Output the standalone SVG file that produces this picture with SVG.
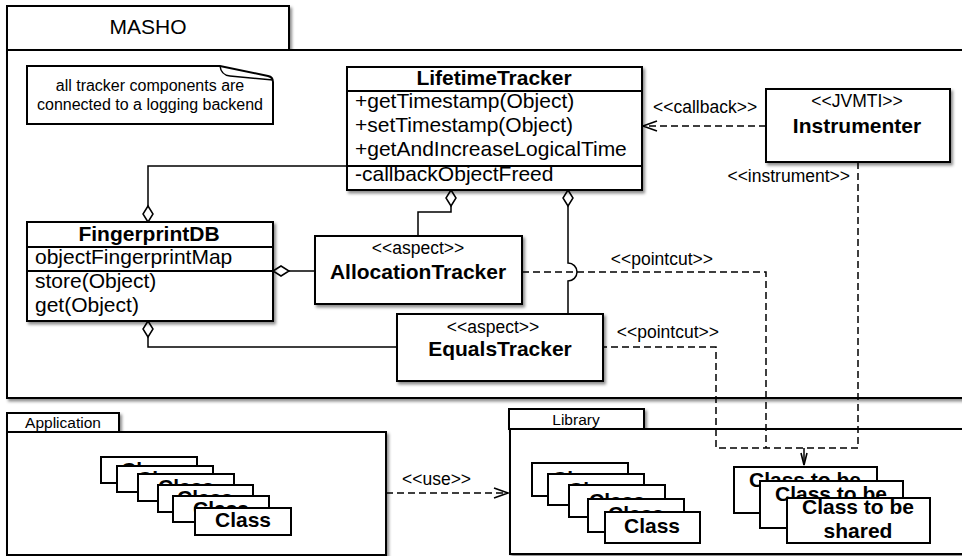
<svg xmlns="http://www.w3.org/2000/svg" width="962" height="556" viewBox="0 0 962 556">
<defs>
<filter id="sh" x="-5%" y="-5%" width="115%" height="125%">
<feDropShadow dx="2" dy="2.5" stdDeviation="1.5" flood-color="#000" flood-opacity="0.45"/>
</filter>
<marker id="open" viewBox="0 0 16 12" refX="15" refY="6" markerWidth="16" markerHeight="12" markerUnits="userSpaceOnUse" orient="auto">
<path d="M1,1 L15,6 L1,11" fill="none" stroke="#000" stroke-width="1.6"/>
</marker>
<marker id="small" viewBox="0 0 14 8" refX="13" refY="4" markerWidth="14" markerHeight="8" markerUnits="userSpaceOnUse" orient="auto">
<path d="M1,1 L13,4 L1,7" fill="none" stroke="#000" stroke-width="1.6"/>
</marker>
<style>
.box{fill:#fff;stroke:#000;stroke-width:2;filter:url(#sh)}
.plain{fill:#fff;stroke:#000;stroke-width:2}
.sep{stroke:#000;stroke-width:1.8}
.ln{fill:none;stroke:#000;stroke-width:1.5}
.dash{fill:none;stroke:#000;stroke-width:1.5;stroke-dasharray:7 4}
.dia{fill:#fff;stroke:#000;stroke-width:1.5}
text{font-family:"Liberation Sans",Arial,Helvetica,sans-serif;fill:#000}
.m{font-size:21px}
.b{font-size:21px;font-weight:bold}
.s{font-size:17.5px}
.n{font-size:16px}
.tab{font-size:15.5px}
.c{text-anchor:middle}
.e{text-anchor:end}
</style>
</defs>

<g id="masho">
<rect class="box" x="7" y="6" width="282" height="44"/>
<rect class="box" x="7" y="50" width="975" height="348"/>
<text class="m c" x="148" y="34">MASHO</text>
</g>

<g id="note">
<path d="M27,66 H220 L268,76 Q273,77 273,82 V124 H27 Z" fill="#fff" stroke="#000" stroke-width="2"/>
<path d="M220,66 Q221,75 230,76 L273,80" fill="none" stroke="#000" stroke-width="1.5"/>
<text class="n c" x="150" y="91">all tracker components are</text>
<text class="n c" x="150" y="110">connected to a logging backend</text>
</g>

<g id="application">
<rect class="box" x="7" y="413" width="112" height="19"/>
<rect class="box" x="7" y="432" width="379" height="123"/>
<text class="tab c" x="63" y="428">Application</text>
<g id="app-classes">
<rect class="plain" x="101" y="457" width="96" height="26"/><text class="b c" x="149" y="477">Class</text>
<rect class="plain" x="117" y="466" width="96" height="26"/><text class="b c" x="165" y="486">Class</text>
<rect class="plain" x="138" y="474" width="96" height="27"/><text class="b c" x="186" y="494">Class</text>
<rect class="plain" x="158" y="485" width="95" height="27"/><text class="b c" x="205" y="505">Class</text>
<rect class="plain" x="173" y="496" width="96" height="26"/><text class="b c" x="221" y="516">Class</text>
<rect class="plain" x="195" y="508" width="96" height="27"/><text class="b c" x="243" y="527">Class</text>
</g>
</g>

<g id="library">
<rect class="box" x="509" y="409" width="135" height="20"/>
<rect class="box" x="510" y="429" width="470" height="125"/>
<text class="tab c" x="576" y="425">Library</text>
<g id="lib-classes">
<rect class="plain" x="532" y="463" width="96" height="33"/><text class="b c" x="580" y="486">Class</text>
<rect class="plain" x="548" y="474" width="96" height="31"/><text class="b c" x="596" y="497">Class</text>
<rect class="plain" x="569" y="485" width="96" height="32"/><text class="b c" x="617" y="508">Class</text>
<rect class="plain" x="588" y="499" width="96" height="33"/><text class="b c" x="636" y="521">Class</text>
<rect class="plain" x="605" y="512" width="95" height="31"/><text class="b c" x="652" y="533">Class</text>
</g>
<g id="shared-classes">
<rect class="plain" x="734" y="467" width="143" height="46"/><text class="b c" x="805" y="487">Class to be</text>
<rect class="plain" x="760" y="481" width="143" height="47"/><text class="b c" x="831" y="501">Class to be</text>
<rect class="plain" x="787" y="498" width="143" height="45"/>
<text class="b c" x="858" y="514">Class to be</text>
<text class="b c" x="858" y="538">shared</text>
</g>
</g>

<g id="connectors">
<!-- FingerprintDB top to LifetimeTracker -->
<polyline class="ln" points="148,206 148,166 347,166"/>
<polygon class="dia" points="148,206 153,214 148,222 143,214"/>
<!-- FingerprintDB right to AllocationTracker -->
<line class="ln" x1="289" y1="271" x2="315" y2="271"/>
<polygon class="dia" points="273,271 281,266 289,271 281,276"/>
<!-- FingerprintDB bottom to EqualsTracker -->
<polyline class="ln" points="148,337 148,347 397,347"/>
<polygon class="dia" points="148,321 153,329 148,337 143,329"/>
<!-- LifetimeTracker to AllocationTracker -->
<polyline class="ln" points="451,206 451,212 418,212 418,236"/>
<polygon class="dia" points="451,190 456,198 451,206 446,198"/>
<!-- LifetimeTracker to EqualsTracker (with hop) -->
<path class="ln" d="M568,206 V263 A9,9 0 0 1 568,281 V314"/>
<polygon class="dia" points="568,190 573,198 568,206 563,198"/>
<!-- callback -->
<line class="dash" x1="766" y1="126" x2="643" y2="126" marker-end="url(#open)"/>
<text class="s" x="653" y="113">&lt;&lt;callback&gt;&gt;</text>
<!-- instrument / pointcuts -->
<polyline class="dash" points="858,162 858,448 716,448 716,347 603,347"/>
<polyline class="dash" points="522,272 766,272 766,448"/>
<line class="ln" x1="804" y1="448" x2="804" y2="465" marker-end="url(#small)"/>
<text class="s e" x="850" y="182">&lt;&lt;instrument&gt;&gt;</text>
<text class="s e" x="713" y="265">&lt;&lt;pointcut&gt;&gt;</text>
<text class="s e" x="719" y="338">&lt;&lt;pointcut&gt;&gt;</text>
<!-- use -->
<line class="dash" x1="386" y1="493" x2="508" y2="493" marker-end="url(#open)"/>
<text class="s" x="402" y="485">&lt;&lt;use&gt;&gt;</text>
</g>

<g id="lifetimetracker">
<rect class="box" x="347" y="67" width="295" height="123"/>
<line class="sep" x1="347" y1="91" x2="642" y2="91"/>
<line class="sep" x1="347" y1="166" x2="642" y2="166"/>
<text class="b c" x="494" y="85">LifetimeTracker</text>
<text class="m" x="355" y="108">+getTimestamp(Object)</text>
<text class="m" x="355" y="132">+setTimestamp(Object)</text>
<text class="m" x="355" y="156">+getAndIncreaseLogicalTime</text>
<text class="m" x="355" y="181">-callbackObjectFreed</text>
</g>

<g id="instrumenter">
<rect class="box" x="766" y="89" width="184" height="73"/>
<text class="s c" x="857" y="107">&lt;&lt;JVMTI&gt;&gt;</text>
<text class="b c" x="857" y="133">Instrumenter</text>
</g>

<g id="fingerprintdb">
<rect class="box" x="27" y="222" width="246" height="99"/>
<line class="sep" x1="27" y1="247" x2="273" y2="247"/>
<line class="sep" x1="27" y1="271" x2="273" y2="271"/>
<text class="b c" x="149" y="241">FingerprintDB</text>
<text class="m" x="35" y="264">objectFingerprintMap</text>
<text class="m" x="35" y="288">store(Object)</text>
<text class="m" x="35" y="312">get(Object)</text>
</g>

<g id="allocationtracker">
<rect class="box" x="315" y="236" width="207" height="68"/>
<text class="s c" x="418" y="254">&lt;&lt;aspect&gt;&gt;</text>
<text class="b c" x="418" y="279">AllocationTracker</text>
</g>

<g id="equalstracker">
<rect class="box" x="397" y="314" width="206" height="67"/>
<text class="s c" x="493" y="333">&lt;&lt;aspect&gt;&gt;</text>
<text class="b c" x="500" y="356">EqualsTracker</text>
</g>
</svg>
